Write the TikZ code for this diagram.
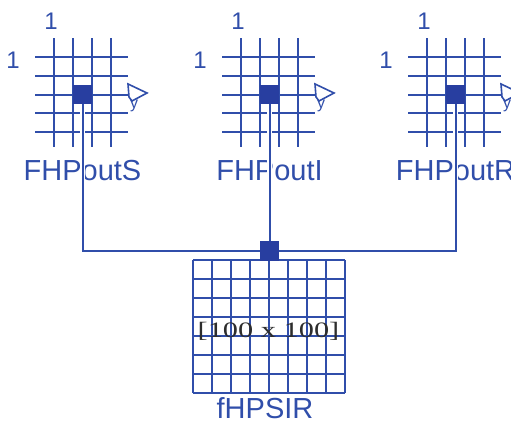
\documentclass[tikz,border=0pt]{standalone}
\usepackage{fontspec}
\usepackage{graphicx}
\setmainfont{Liberation Sans}
\newfontfamily\serifont{Liberation Serif}
\definecolor{gb}{RGB}{48,78,170}
\definecolor{sqb}{RGB}{40,62,160}
\definecolor{dimtxt}{RGB}{45,45,45}
\begin{document}
\begin{tikzpicture}[x=1pt,y=-1pt,
  gridline/.style={gb,line width=2.4pt},
  biggrid/.style={gb,line width=2pt},
  sq/.style={fill=sqb,minimum size=19pt,inner sep=0pt,draw=none},
  conn/.style={gb,line width=2pt,preaction={draw=white,line width=5.5pt}},
  lbl/.style={text=gb,font=\fontsize{29}{29}\selectfont,inner sep=0pt,anchor=base},
  one/.style={text=gb,font=\fontsize{24}{24}\selectfont,inner sep=0pt},
  ylbl/.style={text=gb,font=\fontsize{16}{16}\selectfont,inner sep=0pt},
  tri/.style={draw=gb,line width=1.6pt,fill=white,line join=miter}
]
\useasboundingbox (0,0) rectangle (511,421);
\clip (0,0) rectangle (511,421);
% icons
\foreach \b/\n/\t in {54/L/S,241/M/I,427/R/R}{
  \foreach \k in {0,1,2,3}
    \draw[gridline] (\b+19*\k,38) -- (\b+19*\k,147);
  \foreach \yy in {57,76,95,113,132}
    \draw[gridline] (\b-19,\yy) -- (\b+74,\yy);
  \node[sq] (s\n) at (\b+28.5,94.5) {};
  \draw[tri] (\b+74,84) -- (\b+93,93) -- (\b+78,101) -- (\b+75,97) -- cycle;
  \node[ylbl] (y\n) at (\b+80,106) {y};
  \node[one] (ot\n) at (\b-3,21.5) {1};
  \node[one] (ol\n) at (\b-41,60) {1};
  \node[lbl] (t\n) at (\b+28.5,180) {FHPout\t};
}
% big grid
\foreach \k in {0,...,8}
  \draw[biggrid] (193+19*\k,260) -- (193+19*\k,393);
\foreach \k in {0,...,7}
  \draw[biggrid] (193,260+19*\k) -- (345,260+19*\k);
\node[font=\serifont\fontsize{22}{22}\selectfont,text=dimtxt,anchor=base,inner sep=0pt] (dim) at (268.5,337) {\scalebox{1.38}[1]{[100 x 100]}};
\node[lbl] (tB) at (265,418) {fHPSIR};
\node[sq] (sB) at (269.5,251) {};
% connectors
\draw[conn] (sL.south) |- (sB.center);
\draw[conn] (sR.south) |- (sB.center);
\draw[conn] (sM.south) -- (sB.north);
% squares on top
\foreach \n in {L,M,R,B}
  \fill[sqb] (s\n.south west) rectangle (s\n.north east);
\end{tikzpicture}
\end{document}
